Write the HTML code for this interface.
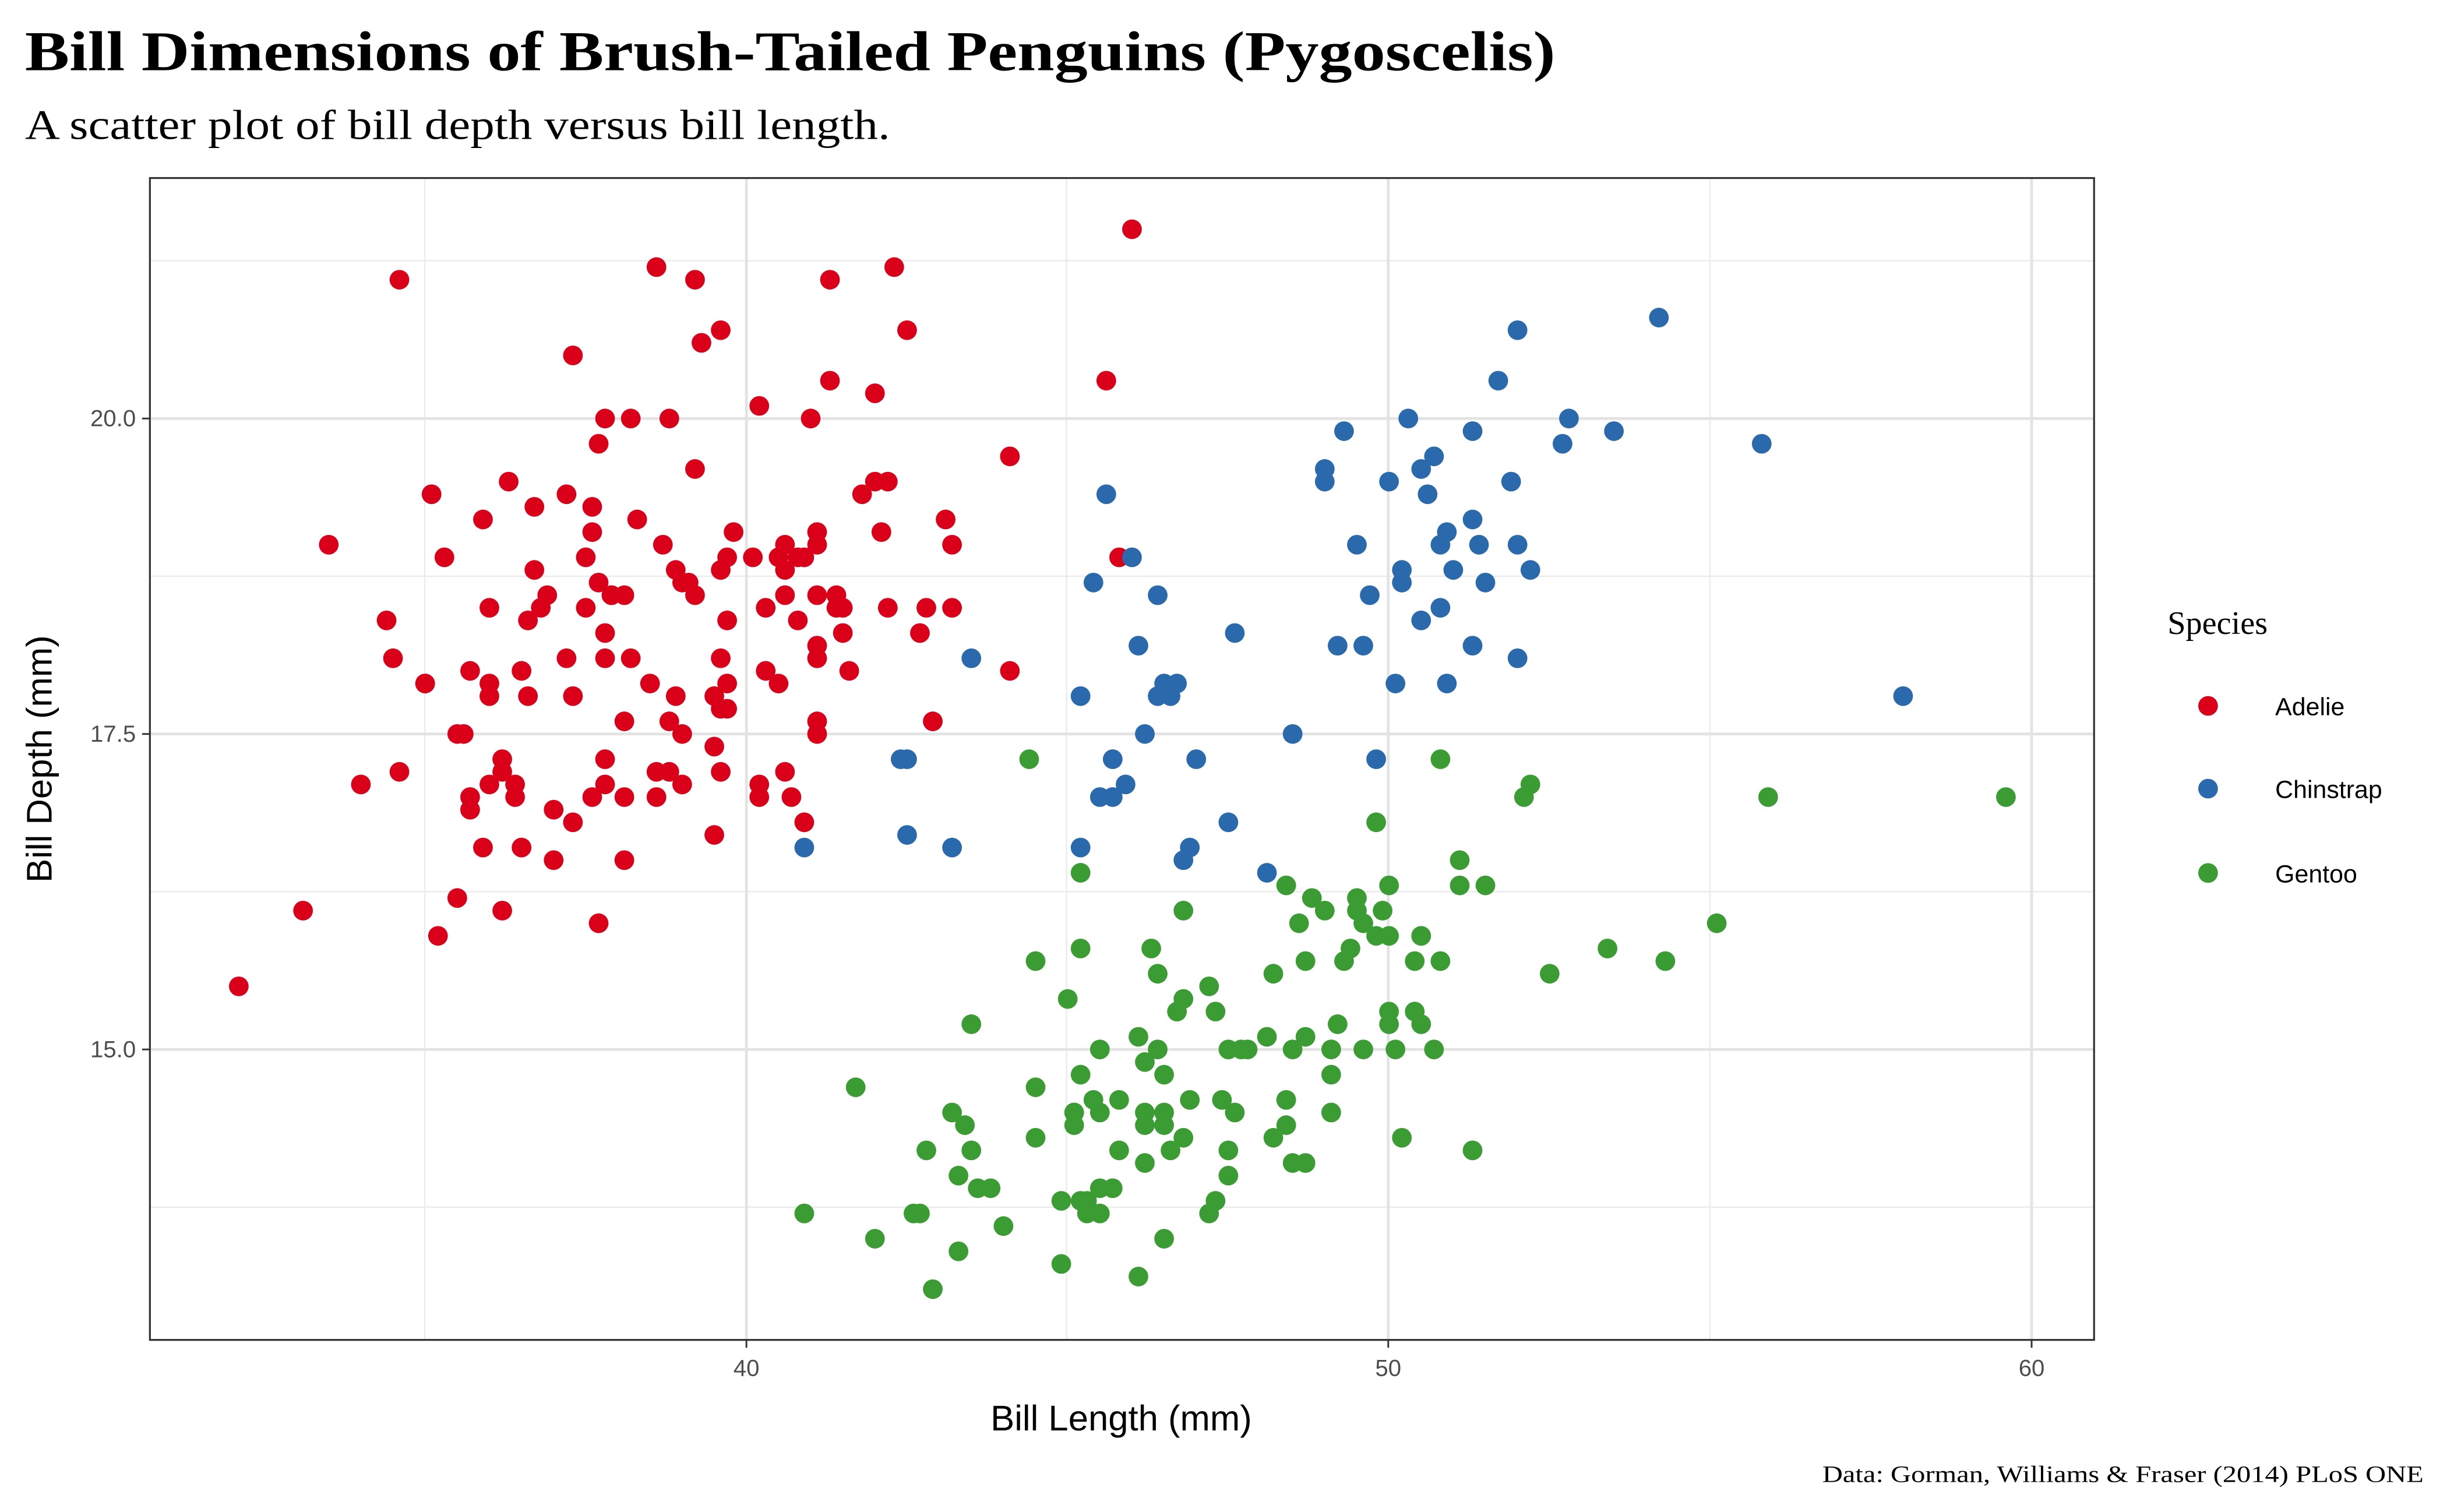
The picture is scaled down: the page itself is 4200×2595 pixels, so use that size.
<!DOCTYPE html>
<html><head><meta charset="utf-8"><style>
html,body{margin:0;padding:0;background:#fff}
svg{display:block}
</style></head><body>
<svg id="s" width="4200" height="2595" viewBox="0 0 1567 968.2" preserveAspectRatio="none" xmlns="http://www.w3.org/2000/svg">
<rect width="1567" height="969" fill="#fff"/>
<text x="16" y="45" font-family="Liberation Serif, serif" font-weight="bold" font-size="36" textLength="980" lengthAdjust="spacingAndGlyphs">Bill Dimensions of Brush-Tailed Penguins (Pygoscelis)</text>
<text x="16" y="89" font-family="Liberation Serif, serif" font-size="27" textLength="554" lengthAdjust="spacingAndGlyphs">A scatter plot of bill depth versus bill length.</text>
<g stroke="#ebebeb" stroke-width="0.9">
<line x1="272" y1="114" x2="272" y2="858"/><line x1="683" y1="114" x2="683" y2="858"/><line x1="1095" y1="114" x2="1095" y2="858"/>
<line x1="96" y1="167" x2="1341" y2="167"/><line x1="96" y1="369" x2="1341" y2="369"/><line x1="96" y1="571" x2="1341" y2="571"/><line x1="96" y1="773" x2="1341" y2="773"/>
</g>
<g stroke="#e3e3e3" stroke-width="1.8">
<line x1="478" y1="114" x2="478" y2="858"/><line x1="889" y1="114" x2="889" y2="858"/><line x1="1301" y1="114" x2="1301" y2="858"/>
<line x1="96" y1="268" x2="1341" y2="268"/><line x1="96" y1="470" x2="1341" y2="470"/><line x1="96" y1="672" x2="1341" y2="672"/>
</g>
<g id="pts"></g>
<rect x="96" y="114" width="1245" height="744" fill="none" stroke="#333" stroke-width="1.2"/>
<g stroke="#333" stroke-width="1.1">
<line x1="478" y1="858" x2="478" y2="863"/><line x1="889" y1="858" x2="889" y2="863"/><line x1="1301" y1="858" x2="1301" y2="863"/>
<line x1="91" y1="268" x2="96" y2="268"/><line x1="91" y1="470" x2="96" y2="470"/><line x1="91" y1="672" x2="96" y2="672"/>
</g>
<g font-family="Liberation Sans, sans-serif" font-size="15" fill="#4d4d4d">
<text x="478" y="881" text-anchor="middle">40</text><text x="889" y="881" text-anchor="middle">50</text><text x="1301" y="881" text-anchor="middle">60</text>
<text x="87" y="273" text-anchor="end">20.0</text><text x="87" y="475" text-anchor="end">17.5</text><text x="87" y="677" text-anchor="end">15.0</text>
</g>
<text x="718" y="916" text-anchor="middle" font-family="Liberation Sans, sans-serif" font-size="23">Bill Length (mm)</text>
<text transform="translate(33,486) rotate(-90)" text-anchor="middle" font-family="Liberation Sans, sans-serif" font-size="23">Bill Depth (mm)</text>
<text x="1388" y="406" font-family="Liberation Serif, serif" font-size="21">Species</text>
<circle cx="1414" cy="452" r="6.3" fill="#DA001A"/><circle cx="1414" cy="505" r="6.3" fill="#2A69AC"/><circle cx="1414" cy="559" r="6.3" fill="#3B9C34"/>
<g font-family="Liberation Sans, sans-serif" font-size="16"><text x="1457" y="458">Adelie</text><text x="1457" y="511">Chinstrap</text><text x="1457" y="565">Gentoo</text></g>
<text x="1552" y="949" text-anchor="end" font-family="Liberation Serif, serif" font-size="15" textLength="385" lengthAdjust="spacingAndGlyphs">Data: Gorman, Williams &amp; Fraser (2014) PLoS ONE</text>
</svg>
<script>
var A="39.1 18.7,39.5 17.4,40.3 18.0,36.7 19.3,39.3 20.6,38.9 17.8,39.2 19.6,42.0 20.2,37.8 17.1,37.8 17.3,41.1 17.6,38.6 21.2,34.6 21.1,36.6 17.8,38.7 19.0,42.5 20.7,34.4 18.4,46.0 21.5,37.8 18.3,37.7 18.7,35.9 19.2,38.2 18.1,38.8 17.2,35.3 18.9,40.6 18.6,40.5 17.9,37.9 18.6,40.5 18.9,39.5 16.7,37.2 18.1,39.5 17.8,40.9 18.9,36.4 17.0,39.2 21.1,38.8 20.0,42.2 18.5,37.6 19.3,39.8 19.1,36.5 18.0,40.8 18.4,36.0 18.5,44.1 19.7,37.0 16.9,39.6 18.8,41.1 19.0,37.5 18.9,36.0 17.9,42.3 21.2,39.6 17.7,40.1 18.9,35.0 17.9,42.0 19.5,34.5 18.1,41.4 18.6,39.0 17.5,40.6 18.8,36.5 16.6,37.6 19.1,35.7 16.9,41.3 21.1,37.6 17.0,41.1 18.2,36.4 17.1,41.6 18.0,35.5 16.2,41.1 19.1,35.9 16.6,41.8 19.4,33.5 19.0,39.7 18.4,39.6 17.2,45.8 18.9,35.5 17.5,42.8 18.5,40.9 16.8,37.2 19.4,36.2 16.1,42.1 19.1,34.6 17.2,42.9 17.6,36.7 18.8,35.1 19.4,37.3 17.8,41.3 20.3,36.3 19.5,36.9 18.6,38.3 19.2,38.9 18.8,35.7 18.0,41.1 18.1,34.0 17.1,39.6 18.1,36.2 17.3,40.8 18.9,38.1 18.6,40.3 18.5,33.1 16.1,43.2 18.5,35.0 17.9,41.0 20.0,37.7 16.0,37.8 20.0,37.9 18.6,39.7 18.9,38.6 17.2,38.2 20.0,38.1 17.0,43.2 19.0,38.1 16.5,45.6 20.3,39.7 17.7,42.2 19.5,39.6 20.7,42.7 18.3,38.6 17.0,37.3 20.5,35.7 17.0,41.1 18.6,36.2 17.2,37.7 19.8,40.2 17.0,41.4 18.5,35.2 15.9,40.6 19.0,38.8 17.6,41.5 18.3,39.0 17.1,44.1 18.0,38.5 17.9,43.1 19.2,36.8 18.5,37.5 18.5,38.1 17.6,41.1 17.5,35.6 17.5,40.2 20.1,37.0 16.5,39.7 17.9,40.2 17.1,40.6 17.2,32.1 15.5,40.7 17.0,37.3 16.8,39.0 18.7,39.2 18.6,36.6 18.4,36.0 17.8,37.8 18.1,36.0 17.1,41.5 18.5";
var C="46.5 17.9,50.0 19.5,51.3 19.2,45.4 18.7,52.7 19.8,45.2 17.8,46.1 18.2,51.3 18.2,46.0 18.9,51.3 19.9,46.6 17.8,51.7 20.3,47.0 17.3,52.0 18.1,45.9 17.1,50.5 19.6,50.3 20.0,58.0 17.8,46.4 18.6,49.2 18.2,42.4 17.3,48.5 17.5,43.2 16.6,50.6 19.4,46.7 17.9,52.0 19.0,50.5 18.4,49.5 19.0,46.4 17.8,52.8 20.0,40.9 16.6,54.2 20.8,42.5 16.7,51.0 18.8,49.7 18.6,47.5 16.8,47.6 18.3,52.0 20.7,46.9 16.6,53.5 19.9,49.0 19.5,46.2 17.5,50.9 19.1,45.5 17.0,50.9 17.9,50.8 18.5,50.1 17.9,49.0 19.6,51.5 18.7,49.8 17.3,48.1 16.4,51.4 19.0,45.7 17.3,50.7 19.7,42.5 17.3,52.2 18.8,45.2 16.6,49.3 19.9,50.2 18.8,45.6 19.4,51.9 19.5,46.8 16.5,45.7 17.0,55.8 19.8,43.5 18.1,49.6 18.2,50.8 19.0,50.2 18.7";
var G="46.1 13.2,50.0 16.3,48.7 14.1,50.0 15.2,47.6 14.5,46.5 13.5,45.4 14.6,46.7 15.3,43.3 13.4,46.8 15.4,40.9 13.7,49.0 16.1,45.5 13.7,48.4 14.6,45.8 14.6,49.3 15.7,42.0 13.5,49.2 15.2,46.2 14.5,48.7 15.1,50.2 14.3,45.1 14.5,46.5 14.5,46.3 15.8,42.9 13.1,46.1 15.1,44.5 14.3,47.8 15.0,48.2 14.3,50.0 15.3,47.3 15.3,42.8 14.2,45.1 14.5,59.6 17.0,49.1 14.8,48.4 16.3,42.6 13.7,44.4 17.3,44.0 13.6,48.7 15.7,42.7 13.7,49.6 16.0,45.3 13.7,49.6 15.0,50.5 15.9,43.6 13.9,45.5 13.9,50.5 15.9,44.9 13.3,45.2 15.8,46.6 14.2,48.5 14.1,45.1 14.4,50.1 15.0,46.5 14.4,45.0 15.4,43.8 13.9,45.5 15.0,43.2 14.5,50.4 15.3,45.3 13.8,46.2 14.9,45.7 13.9,54.3 15.7,45.8 14.2,49.8 16.8,46.2 14.4,49.5 16.2,43.5 14.2,50.7 15.0,47.7 15.0,46.4 15.6,48.2 15.6,46.5 14.8,46.4 15.0,48.6 16.0,47.5 14.2,51.1 16.3,45.2 13.8,45.2 16.4,49.1 14.5,52.5 15.6,47.4 14.6,50.0 15.9,44.9 13.8,50.8 17.3,43.4 14.4,51.3 14.2,47.5 14.0,52.1 17.0,47.5 15.0,52.2 17.1,45.5 14.5,49.5 16.1,44.5 14.7,50.8 15.7,49.4 15.8,46.9 14.6,48.4 14.4,51.1 16.5,48.5 15.0,55.9 17.0,47.2 15.5,49.1 15.0,47.3 13.8,46.8 16.1,41.7 14.7,53.4 15.8,43.3 14.0,48.1 15.1,50.5 15.2,49.8 15.9,43.5 15.2,51.5 16.3,46.2 14.1,55.1 16.0,44.5 15.7,48.8 16.2,47.2 13.7,46.8 14.3,50.4 15.7,45.2 14.8,49.9 16.1";
var g=document.getElementById("pts"),ns="http://www.w3.org/2000/svg";
function add(s,col){s.split(",").forEach(function(p){var v=p.split(" "),c=document.createElementNS(ns,"circle");
c.setAttribute("cx",478+(parseFloat(v[0])-40)*41.15);c.setAttribute("cy",268-(parseFloat(v[1])-20)*80.8);
c.setAttribute("r",6.3);c.setAttribute("fill",col);g.appendChild(c);});}
add(A,"#DA001A");add(C,"#2A69AC");add(G,"#3B9C34");
</script>
</body></html>
